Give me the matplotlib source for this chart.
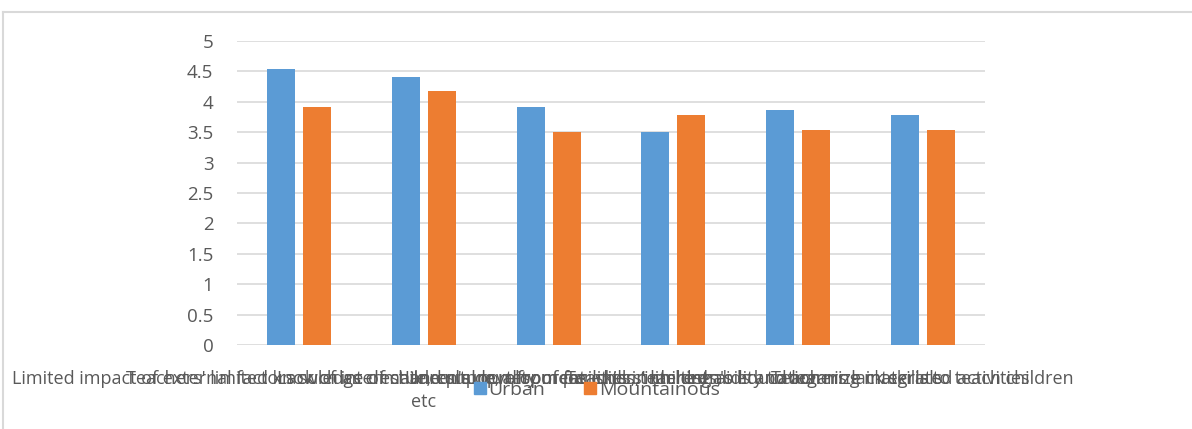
import matplotlib
matplotlib.use("Agg")
import matplotlib.pyplot as plt
import numpy as np
from matplotlib.lines import Line2D
from matplotlib.patches import Patch

categories = [
    "Limited impact of external factors such as climate, culture, resources",
    "Teachers' limited knowledge of children's development, skills, interests,\netc",
    "Lack of interest and support from parents in children's education",
    "Unequal quality of facilities, teaching aids and learning materials",
    "Teachers' limited ability to organize integrated activities",
    "Teachers lack skills to teach children",
]
urban = [4.54, 4.41, 3.91, 3.50, 3.86, 3.79]
mountainous = [3.91, 4.18, 3.50, 3.79, 3.54, 3.54]
series_names = ["Urban", "Mountainous"]
yticks = [0, 0.5, 1, 1.5, 2, 2.5, 3, 3.5, 4, 4.5, 5]

BLUE = "#5b9bd5"
ORANGE = "#ed7d31"
GRAY = "#595959"
GRID = "#d9d9d9"

plt.rcParams['font.family'] = ['Open Sans', 'DejaVu Sans']

fig = plt.figure(figsize=(11.92, 4.29), dpi=100)
ax = fig.add_axes([237/1192, 1-345/429, (985-237)/1192, (345-41)/429])

x = np.arange(len(categories))
w = 0.225
off = 0.145
ax.bar(x - off, urban, width=w, color=BLUE, label=series_names[0], zorder=3)
ax.bar(x + off, mountainous, width=w, color=ORANGE, label=series_names[1], zorder=3)

ax.set_xlim(-0.5, len(categories) - 0.5)
ax.set_ylim(0, 5)
ax.set_yticks(yticks)
ax.set_yticklabels([f"{t:g}" for t in yticks])
ax.yaxis.grid(True, color=GRID, linewidth=1.2, zorder=0)
ax.set_axisbelow(True)
for s in ax.spines.values():
    s.set_visible(False)
ax.tick_params(axis='y', length=0, pad=17, labelsize=13.5, labelcolor=GRAY)
ax.set_xticks(x)
ax.set_xticklabels(categories, fontsize=13, color=GRAY, linespacing=1.35)
ax.tick_params(axis='x', length=0, pad=18)

handles = [Patch(color=BLUE), Patch(color=ORANGE)]
fig.legend(handles, series_names, loc='center', bbox_to_anchor=(597/1192, 1-390/429),
           ncol=2, frameon=False, fontsize=14, labelcolor=GRAY,
           handlelength=0.6, handleheight=0.6, handletextpad=0.15, columnspacing=2.0)

# outer chart border
fig.add_artist(Line2D([3/1192, 1.0], [1-12/429, 1-12/429], color=GRID, lw=1.5,
                      transform=fig.transFigure))
fig.add_artist(Line2D([3/1192, 3/1192], [0, 1-12/429], color=GRID, lw=1.5,
                      transform=fig.transFigure))

fig.savefig("out.png", dpi=100, facecolor="white")
